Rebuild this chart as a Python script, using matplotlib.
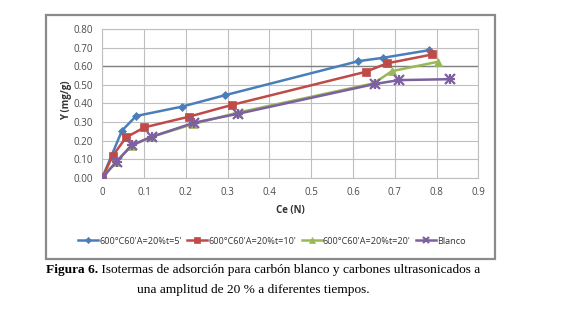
import matplotlib
matplotlib.use("Agg")
import matplotlib.pyplot as plt
from matplotlib.patches import Rectangle

# Data
x_t5 = [0.0, 0.047, 0.081, 0.19, 0.294, 0.613, 0.672, 0.782]
y_t5 = [0.0, 0.253, 0.332, 0.382, 0.444, 0.627, 0.645, 0.686]
x_t10 = [0.0, 0.025, 0.057, 0.101, 0.207, 0.311, 0.631, 0.681, 0.79]
y_t10 = [0.0, 0.118, 0.217, 0.271, 0.328, 0.392, 0.570, 0.615, 0.663]
x_t20 = [0.0, 0.033, 0.070, 0.118, 0.218, 0.324, 0.650, 0.693, 0.804]
y_t20 = [0.0, 0.086, 0.172, 0.220, 0.289, 0.350, 0.508, 0.573, 0.624]
x_bl = [0.0, 0.034, 0.071, 0.118, 0.220, 0.325, 0.652, 0.710, 0.833]
y_bl = [0.0, 0.086, 0.176, 0.220, 0.296, 0.344, 0.504, 0.525, 0.530]
labels = ["600°C60'A=20%t=5'", "600°C60'A=20%t=10'", "600°C60'A=20%t=20'", "Blanco"]
x_ticks = [0, 0.1, 0.2, 0.3, 0.4, 0.5, 0.6, 0.7, 0.8, 0.9]
y_ticks = [0.0, 0.1, 0.2, 0.3, 0.4, 0.5, 0.6, 0.7, 0.8]

W, H = 577, 312
fig = plt.figure(figsize=(W / 100, H / 100), dpi=100)
fig.patch.set_facecolor("white")

# outer chart frame
fig.patches.append(Rectangle((46 / W, 1 - 259 / H), (495 - 46) / W, (259 - 15) / H,
                             transform=fig.transFigure, fill=False,
                             edgecolor="#8a8a8a", linewidth=1.6))

L, R, T, B = 102.3, 478.3, 29.0, 177.7
ax = fig.add_axes([L / W, 1 - B / H, (R - L) / W, (B - T) / H])

cols = ["#4A7EBB", "#BE4B48", "#98B954", "#7D60A0"]
mk = ["D", "s", "^", "x"]
ms = [4.5, 5.5, 6, 6.5]
series = [(x_t5, y_t5), (x_t10, y_t10), (x_t20, y_t20), (x_bl, y_bl)]
for (xs, ys), c, m, s, lab in zip(series, cols, mk, ms, labels):
    kw = dict(markeredgewidth=1.6) if m == "x" else dict(markeredgewidth=0.5)
    ax.plot(xs, ys, color=c, marker=m, markersize=s, linewidth=1.8, label=lab,
            markerfacecolor=c, markeredgecolor=c, zorder=3, **kw)
ax.plot(x_bl, y_bl, linestyle="none", marker="+", markersize=6.5,
        markeredgewidth=1.6, color=cols[3], zorder=4)

ax.set_xlim(0, 0.9)
ax.set_ylim(0, 0.8)
ax.set_xticks(x_ticks)
ax.set_yticks(y_ticks)
ax.set_xticklabels(["0" if v == 0 else f"{v:.1f}" for v in x_ticks])
ax.set_yticklabels([f"{v:.2f}" for v in y_ticks])
ax.grid(True, color="#bfbfbf", linewidth=0.8, zorder=0)
ax.axhline(0.6, color="#808080", linewidth=1.0, zorder=1)
for s in ax.spines.values():
    s.set_color("#bfbfbf")
    s.set_linewidth(0.8)
ax.tick_params(length=0, labelsize=7, colors="#4a4a4a", pad=7)
for t in ax.get_xticklabels() + ax.get_yticklabels():
    t.set_fontfamily("Open Sans")
ax.set_axisbelow(True)

fig.text((L + R) / 2 / W, 1 - 210 / H, "Ce (N)", ha="center", va="center",
         fontsize=7, fontweight="bold", family="Open Sans", color="#333333")
fig.text(66.5 / W, 1 - 100 / H, "Y (mg/g)", ha="center", va="center", rotation=90,
         fontsize=7, fontweight="bold", family="Open Sans", color="#333333")

leg = fig.legend(loc="center", bbox_to_anchor=(272 / W, 1 - 241 / H), ncol=4,
                 frameon=False, prop={"family": "Open Sans", "size": 6.6},
                 handlelength=2.2, handletextpad=0.1, columnspacing=0.6,
                 markerscale=0.7)
for t in leg.get_texts():
    t.set_color("#333333")

# caption
r = fig.canvas.get_renderer()
cap_bold = "Figura 6."
cap_rest = " Isotermas de adsorción para carbón blanco y carbones ultrasonicados a"
fs = 9.6
tb = fig.text(0, 0, cap_bold, fontsize=fs, fontweight="bold", family="Liberation Serif")
tr = fig.text(0, 0, cap_rest, fontsize=fs, family="Liberation Serif")
wb = tb.get_window_extent(r).width
wr = tr.get_window_extent(r).width
x0 = 263 - (wb + wr) / 2
y1 = 1 - 270 / H
tb.set_position((x0 / W, y1)); tb.set_va("center")
tr.set_position(((x0 + wb) / W, y1)); tr.set_va("center")
fig.text(253 / W, 1 - 290 / H, "una amplitud de 20 % a diferentes tiempos.",
         fontsize=fs, family="Liberation Serif", ha="center", va="center")

fig.savefig("out.png", dpi=100)
